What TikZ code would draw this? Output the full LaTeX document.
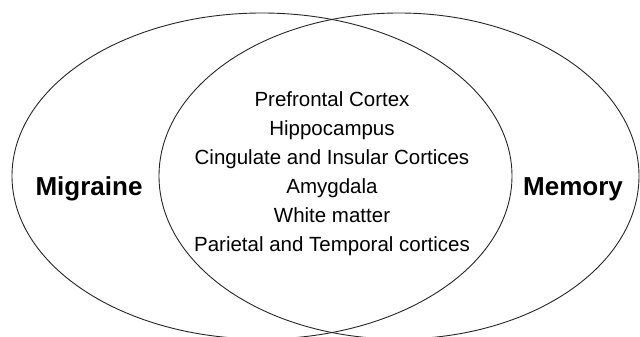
\documentclass[tikz,border=0pt]{standalone}
\usepackage{fontspec}
\setmainfont{Liberation Sans}
\usetikzlibrary{shapes.geometric}

\begin{document}
\begin{tikzpicture}[
    x=1pt, y=-1pt,
    set/.style={ellipse, draw=black!85, line width=0.9pt, inner sep=0pt},
    setlabel/.style={font=\fontsize{26}{30}\selectfont\bfseries},
    region/.style={align=center, font=\fontsize{20.5}{29}\selectfont}
]
    \useasboundingbox (0,0) rectangle (640,337);
    \clip (0,0) rectangle (640,337);

    \node[set, minimum width=500pt, minimum height=326pt] (migraine) at (262,176) {};
    \node[set, minimum width=480pt, minimum height=326pt] (memory) at (399,176) {};

    \node[setlabel] (migrainelabel) at (89,189) {Migraine};
    \node[setlabel] (memorylabel) at (573,189) {Memory};

    \node[region] (overlap) at (332,174)
        {Prefrontal Cortex\\Hippocampus\\Cingulate and Insular Cortices\\
         Amygdala\\White matter\\Parietal and Temporal cortices};
\end{tikzpicture}
\end{document}
